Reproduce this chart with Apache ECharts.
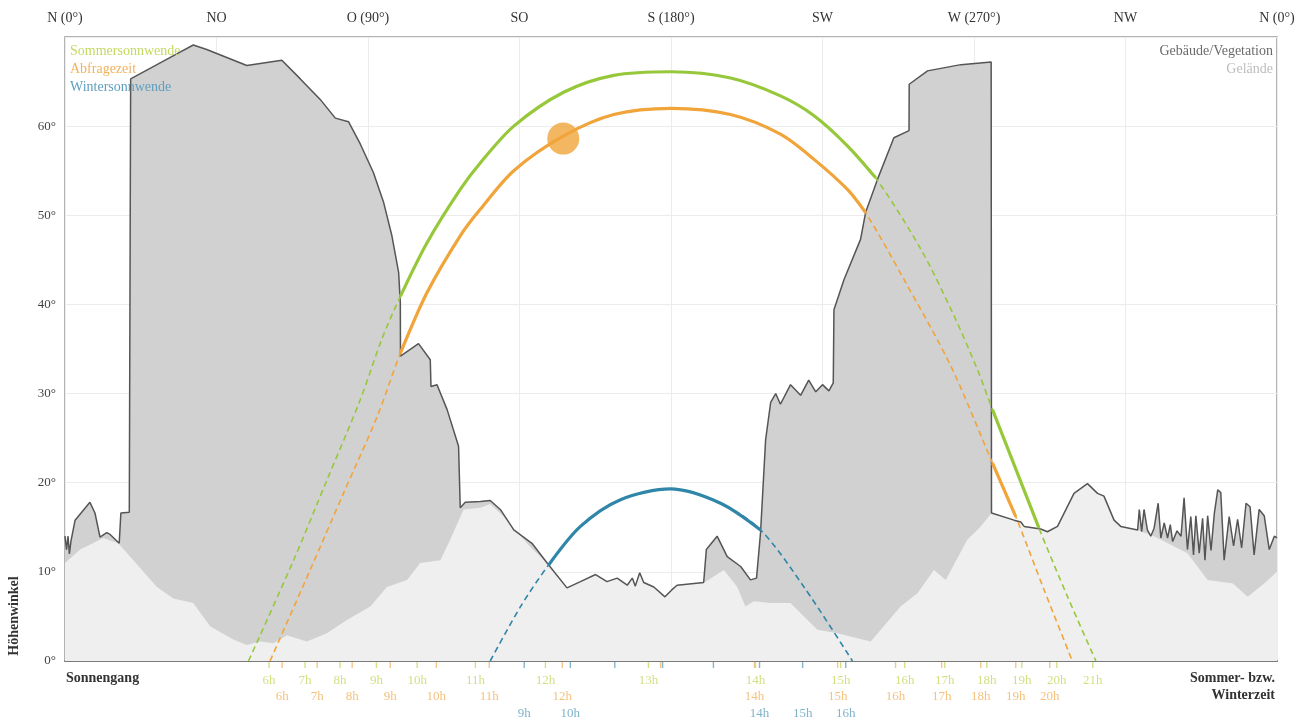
<!DOCTYPE html>
<html><head><meta charset="utf-8">
<script src="https://cdn.jsdelivr.net/npm/echarts@6/dist/echarts.min.js"></script>
<style>html,body{margin:0;padding:0;background:#fff}#c{width:1316px;height:725px}</style>
</head><body><div id="c"></div>
<script>
// ---- data (azimuth °, altitude °) ----
const compassValues = [0, 45, 90, 135, 180, 225, 270, 315, 360];
const compassLabels = ['N (0°)', 'NO', 'O (90°)', 'SO', 'S (180°)', 'SW', 'W (270°)', 'NW', 'N (0°)'];
const altitudeLabels = ['0°', '10°', '20°', '30°', '40°', '50°', '60°'];

const buildingProfile = [
  [0,14.0],[0.45,12.5],[0.9,14.0],[1.3,12.0],[1.8,13.5],[3.0,15.8],[7.4,17.8],[8.9,16.6],[10.4,13.9],[12.4,14.4],
  [13.4,14.2],[16.1,13.2],[16.6,16.6],[19.1,16.7],[19.5,65.3],[33.2,68.1],[38.1,69.1],[42.1,68.6],[54.0,66.8],[64.4,67.4],
  [69.9,65.3],[75.8,63.0],[80.3,60.9],[84.2,60.5],[87.7,58.0],[91.6,54.8],[94.6,51.5],[97.1,47.7],[99.1,43.6],[99.6,40.2],
  [99.65,34.2],[105.0,35.6],[108.5,33.8],[108.7,30.8],[110.5,31.0],[113.5,28.2],[116.9,24.1],[117.4,17.2],[118.9,17.8],[123.4,17.9],
  [126.3,18.0],[129.3,17.0],[133.3,14.7],[138.7,13.2],[143.2,11.0],[149.1,8.2],[153.1,8.9],[157.6,9.7],[161.0,8.9],[164.0,9.3],
  [167.0,8.5],[168.5,9.3],[169.4,8.4],[170.7,9.9],[171.9,8.8],[174.9,8.3],[178.2,7.2],[180.3,8.0],[181.8,8.5],[189.7,8.8],
  [190.5,12.5],[193.7,14.0],[196.7,11.7],[200.7,10.6],[203.6,9.1],[205.4,9.3],[206.6,14.4],[208.1,24.8],[209.6,29.0],[211.1,30.0],
  [212.5,28.8],[215.5,31.0],[218.5,29.8],[220.9,31.5],[223.0,30.2],[225.0,31.0],[226.9,30.3],[228.2,31.2],[228.4,39.4],[231.4,42.8],
  [236.3,47.3],[237.8,50.3],[241.3,54.0],[246.2,58.7],[250.7,59.5],[250.75,64.7],[256.2,66.2],[266.1,66.9],[275.1,67.2],[275.2,16.6],
  [281.9,15.8],[283.9,15.6],[284.9,15.1],[289.8,14.8],[291.8,14.5],[294.8,15.1],[299.7,18.8],[303.7,19.9],[306.7,18.8],[308.6,18.5],
  [311.6,15.8],[313.6,15.1],[318.6,14.7],[319.1,17.0],[319.8,14.5],[320.5,17.0],[321.5,14.7],[322.5,14.0],[323.5,14.9],[324.7,17.7],
  [325.5,13.8],[326.5,15.5],[327.5,13.8],[328.3,15.3],[329.0,13.4],[330.3,14.6],[331.5,14.0],[332.4,18.3],[333.4,12.5],[334.4,16.2],
  [335.2,11.9],[335.9,16.3],[336.9,12.1],[337.9,16.0],[338.6,11.3],[339.4,16.3],[340.4,12.4],[341.4,16.6],[342.4,19.2],[343.3,18.9],
  [344.3,11.3],[345.8,16.2],[347.1,12.9],[348.3,15.9],[349.5,12.7],[350.8,17.7],[352.0,17.3],[353.2,11.9],[354.7,17.0],[356.2,16.3],
  [357.7,12.5],[359.2,14.0],[360,13.8]
];

const terrainProfile = [
  [0,11.0],[4.5,12.5],[11.4,13.8],[15.8,13.2],[20.3,11.3],[27.3,8.3],[32.2,7.0],[38.1,6.5],[43.1,3.9],[50.0,2.4],
  [54.0,1.8],[58.0,2.2],[61.9,2.0],[65.9,2.9],[71.8,2.2],[77.8,3.1],[83.7,4.6],[90.7,6.1],[95.6,8.3],[101.6,9.1],
  [105.5,11.0],[111.5,11.3],[114.4,13.6],[118.4,17.0],[123.4,17.2],[126.3,17.6],[130.3,16.2],[138.2,12.8],[143.2,11.0],[149.1,8.2],
  [153.1,8.9],[157.6,9.7],[161.0,8.9],[164.0,9.3],[167.0,8.5],[168.5,9.3],[169.4,8.4],[170.7,9.9],[171.9,8.8],[174.9,8.3],
  [178.2,7.2],[180.3,8.0],[181.8,8.5],[189.7,8.8],[190.7,9.0],[195.7,10.2],[199.7,8.3],[202.1,6.1],[204.6,6.7],[209.6,6.5],
  [215.5,6.5],[219.5,5.0],[223.5,3.5],[229.4,3.1],[239.3,2.2],[248.2,6.1],[253.2,7.6],[258.1,10.2],[261.6,9.1],[268.0,13.6],
  [272.0,15.1],[275.2,16.6],[281.9,15.8],[283.9,15.6],[284.9,15.1],[289.8,14.8],[291.8,14.5],[294.8,15.1],[299.7,18.8],[303.7,19.9],
  [306.7,18.8],[308.6,18.5],[311.6,15.8],[313.6,15.1],[318.6,14.7],[323.5,14.0],[333.4,12.1],[339.4,9.1],[346.9,8.7],[351.3,7.2],
  [356.2,8.7],[360,10.0]
];

const summerPath = [
  [54.5,0],[67.9,11.3],[77.8,20.3],[87.7,29.3],[94.1,36.1],[99.6,40.9],[107.5,46.9],[117.4,52.9],[123.4,55.9],[133.3,60.0],
  [148.1,63.8],[163.0,65.7],[180.1,66.1],[197.7,65.4],[212.5,63.4],[222.4,61.2],[232.4,57.8],[240.8,54.2],[254.2,46.2],[264.1,38.7],
  [271.0,32.7],[275.5,28.2],[289.3,14.9],[297.8,7.2],[306.2,0]
];
const queryPath = [
  [60.9,0],[72.8,10.2],[82.7,18.8],[92.7,27.4],[99.6,34.5],[107.5,41.3],[117.4,47.7],[123.4,50.7],[133.3,55.0],[148.1,58.9],
  [163.0,61.3],[180.1,62.0],[197.7,61.3],[212.5,59.1],[222.4,56.3],[232.4,52.9],[237.8,50.3],[249.2,42.8],[263.1,33.1],[275.5,22.2],
  [282.4,16.2],[290.8,8.0],[299.2,0]
];
const winterPath = [
  [126.3,0],[135.3,6.1],[143.7,10.8],[153.1,15.1],[165.0,18.1],[179.8,19.3],[194.7,17.7],[206.6,14.7],[219.5,8.3],[233.9,0]
];
const summerVisible = [[99.6,240.8],[275.5,289.3]];
const queryVisible = [[99.6,237.8],[275.5,282.4]];
const winterVisible = [[143.7,206.6]];
const sunPosition = [[148.0,58.6]];

const summerHourAz = [60.6,71.3,81.7,92.5,104.6,121.9,142.7,173.3,205.1,230.4,249.4,261.3,273.8,284.2,294.6,305.3];
const summerHourLabels = ['6h','7h','8h','9h','10h','11h','12h','13h','14h','15h','16h','17h','18h','19h','20h','21h'];
const queryHourAz = [64.5,74.9,85.3,96.6,110.3,126.0,147.7,176.9,204.8,229.5,246.7,260.4,272.0,282.4,292.5];
const queryHourLabels = ['6h','7h','8h','9h','10h','11h','12h','','14h','15h','16h','17h','18h','19h','20h'];
const winterHourAz = [136.4,150.1,163.3,177.5,192.6,206.3,219.1,231.9];
const winterHourLabels = ['9h','10h','','','','14h','15h','16h'];

// ---- chart ----
const FONT = '"Liberation Serif","DejaVu Serif",serif';
const C_SUMMER = '#97c83c', C_QUERY = '#f0a43a', C_WINTER = '#2f86a8';
const L_SUMMER = '#c3d963', L_QUERY = '#f2b25c', L_WINTER = '#5f9fbf';
const SMOOTH = 0.3;

function segment(path, range) {
  return path.filter(p => p[0] >= range[0] && p[0] <= range[1]);
}
function solidSeries(path, ranges, color) {
  return ranges.map(r => ({
    type: 'line', data: segment(path, r), smooth: SMOOTH, symbol: 'none', z: 6,
    lineStyle: { color: color, width: 3.2 }, silent: true
  }));
}
function dashedSeries(path, color) {
  return {
    type: 'line', data: path, smooth: SMOOTH, symbol: 'none', z: 5,
    lineStyle: { color: color, width: 1.6, type: [6, 4] }, silent: true
  };
}
function tickSeries(az, labels, tickColor, labelColor, dy) {
  return {
    type: 'scatter', clip: false, z: 8, silent: true,
    data: az.map((a, i) => ({ value: [a, 0], name: labels[i] })),
    symbol: 'rect', symbolSize: [1.4, 6], symbolOffset: [0, 4],
    itemStyle: { color: tickColor },
    label: {
      show: true, position: 'inside', offset: [0, dy],
      formatter: p => p.name, color: labelColor,
      fontFamily: FONT, fontSize: 13
    }
  };
}

const chart = echarts.init(document.getElementById('c'));
chart.setOption({
  animation: false,
  backgroundColor: '#fff',
  grid: { left: 65, right: 39, top: 37, bottom: 64, show: true, borderColor: '#9a9a9a', borderWidth: 1.5, backgroundColor: 'transparent' },
  xAxis: [{
    type: 'value', position: 'top', min: 0, max: 360, interval: 45,
    axisLine: { show: false }, axisTick: { show: false },
    axisLabel: {
      margin: 12, color: '#333', fontFamily: FONT, fontSize: 14,
      formatter: v => { const i = compassValues.indexOf(v); return i >= 0 ? compassLabels[i] : ''; }
    },
    splitLine: { show: true, lineStyle: { color: '#ececec', width: 1 } }
  }, {
    type: 'value', position: 'bottom', min: 0, max: 360,
    axisLine: { show: true, onZero: false, lineStyle: { color: '#7a7a7a', width: 2 } },
    axisTick: { show: false }, axisLabel: { show: false }, splitLine: { show: false }
  }],
  yAxis: {
    type: 'value', min: 0, max: 70, interval: 10,
    axisLine: { show: false }, axisTick: { show: false },
    axisLabel: {
      margin: 9, color: '#444', fontFamily: FONT, fontSize: 13,
      formatter: v => altitudeLabels[v / 10] || ''
    },
    splitLine: { show: true, lineStyle: { color: '#ececec', width: 1 } }
  },
  series: [
    { type: 'line', data: buildingProfile, symbol: 'none', z: 1, silent: true,
      lineStyle: { width: 0 }, areaStyle: { color: '#d1d1d1', opacity: 1 } },
    { type: 'line', data: terrainProfile, symbol: 'none', z: 2, silent: true,
      lineStyle: { width: 0 }, areaStyle: { color: '#efefef', opacity: 1 } },
    { type: 'line', data: buildingProfile, symbol: 'none', z: 3, silent: true,
      lineStyle: { color: '#555', width: 1.5 } },
    dashedSeries(summerPath, C_SUMMER),
    dashedSeries(queryPath, C_QUERY),
    dashedSeries(winterPath, C_WINTER),
    ...solidSeries(summerPath, summerVisible, C_SUMMER),
    ...solidSeries(queryPath, queryVisible, C_QUERY),
    ...solidSeries(winterPath, winterVisible, C_WINTER),
    { type: 'scatter', data: sunPosition, symbol: 'circle', symbolSize: 32, z: 7, silent: true,
      itemStyle: { color: C_QUERY } },
    tickSeries(summerHourAz, summerHourLabels, '#c9d96a', L_SUMMER, 16),
    tickSeries(queryHourAz, queryHourLabels, '#f2b86a', L_QUERY, 32),
    tickSeries(winterHourAz, winterHourLabels, '#6aa3c2', L_WINTER, 49)
  ],
  graphic: [
    { type: 'text', left: 70, top: 44, z: 100, style: { text: 'Sommersonnwende', fill: L_SUMMER, font: '14px ' + FONT } },
    { type: 'text', left: 70, top: 62, z: 100, style: { text: 'Abfragezeit', fill: L_QUERY, font: '14px ' + FONT } },
    { type: 'text', left: 70, top: 80, z: 100, style: { text: 'Wintersonnwende', fill: L_WINTER, font: '14px ' + FONT } },
    { type: 'text', right: 43, top: 44, z: 100, style: { text: 'Gebäude/Vegetation', fill: '#6a6a6a', font: '14px ' + FONT } },
    { type: 'text', right: 43, top: 62, z: 100, style: { text: 'Gelände', fill: '#bdbdbd', font: '14px ' + FONT } },
    { type: 'text', left: 66, top: 671, z: 100, style: { text: 'Sonnengang', fill: '#333', font: 'bold 14px ' + FONT } },
    { type: 'text', right: 41, top: 671, z: 100, style: { text: 'Sommer- bzw.', fill: '#333', font: 'bold 14px ' + FONT } },
    { type: 'text', right: 41, top: 688, z: 100, style: { text: 'Winterzeit', fill: '#333', font: 'bold 14px ' + FONT } },
    { type: 'text', x: 14, y: 616, rotation: Math.PI / 2, z: 100,
      style: { text: 'Höhenwinkel', fill: '#333', font: 'bold 14px ' + FONT, textAlign: 'center', textVerticalAlign: 'middle' } }
  ]
});
</script>
</body></html>
